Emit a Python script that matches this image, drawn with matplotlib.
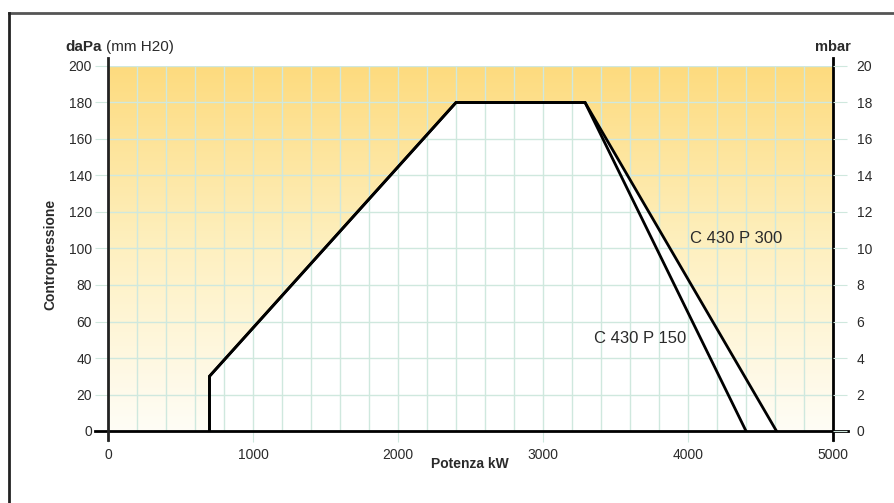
import numpy as np
import matplotlib
matplotlib.use("Agg")
import matplotlib.pyplot as plt
from matplotlib.colors import LinearSegmentedColormap

plt.rcParams['font.family'] = ['Liberation Sans', 'DejaVu Sans']

# data
kw_p150 = [700, 700, 2400, 3290, 4400]
kw_p300 = [700, 700, 2400, 3290, 4610]
dapa = [0, 30, 180, 180, 0]
x_ticks = [0, 1000, 2000, 3000, 4000, 5000]
y_ticks = list(range(0, 201, 20))
mbar_ticks = list(range(0, 21, 2))

grid_col = '#cfe8de'
txt_col = '#2a2a2a'

fig = plt.figure(figsize=(8.95, 5.03), dpi=100)
ax = fig.add_axes([108/895, 72/503, 725/895, 365/503])

# yellow gradient background
cmap = LinearSegmentedColormap.from_list('bg', ['#fffdf6', '#fef0c0', '#fddb7e'])
grad = np.linspace(0, 1, 256).reshape(-1, 1)
ax.imshow(grad, extent=[0, 5000, 0, 200], origin='lower', aspect='auto',
          cmap=cmap, zorder=0)

# white working field
ax.fill(kw_p300, dapa, color='white', zorder=1)

ax.set_xlim(0, 5000)
ax.set_ylim(0, 200)
ax.set_xticks(x_ticks)
ax.set_xticks(np.arange(0, 5001, 200), minor=True)
ax.set_yticks(y_ticks)
ax.grid(True, which='both', color=grid_col, lw=1)
ax.tick_params(axis='x', which='major', length=8, color=grid_col, labelsize=10,
               pad=4, labelcolor=txt_col)
ax.tick_params(axis='x', which='minor', length=0)
ax.tick_params(axis='y', length=9.5, color=grid_col, labelsize=10, pad=2,
               labelcolor=txt_col)
for s in ax.spines.values():
    s.set_visible(False)

ax.plot(kw_p150, dapa, color='black', lw=2, zorder=3, solid_joinstyle='miter')
ax.plot(kw_p300, dapa, color='black', lw=2, zorder=3, solid_joinstyle='miter')

# axis lines
ax.plot([-90, 5100], [0, 0], color='black', lw=2, clip_on=False, zorder=4)
ax.plot([0, 0], [-5, 204.5], color='#222222', lw=2, clip_on=False, zorder=4)
ax.plot([5000, 5000], [-5, 204.5], color='black', lw=2, clip_on=False, zorder=4)

ax2 = ax.twinx()
ax2.set_ylim(0, 20)
ax2.set_yticks(mbar_ticks)
ax2.tick_params(axis='y', length=10, color=grid_col, labelsize=10, pad=7,
                labelcolor=txt_col)
for s in ax2.spines.values():
    s.set_visible(False)

ax.text(4330, 105.5, 'C 430 P 300', fontsize=12, ha='center', va='center',
        color=txt_col, zorder=5)
ax.text(3670, 50.5, 'C 430 P 150', fontsize=12, ha='center', va='center',
        color=txt_col, zorder=5)

fig.text(65/895, 1 - 47/503, 'daPa', fontsize=11, fontweight='bold',
         ha='left', va='center', color=txt_col)
fig.text(106/895, 1 - 47/503, '(mm H20)', fontsize=11,
         ha='left', va='center', color=txt_col)
fig.text(833/895, 1 - 47/503, 'mbar', fontsize=10.5, fontweight='bold',
         ha='center', va='center', color=txt_col)
fig.text(50/895, 1 - 254/503, 'Contropressione', fontsize=10, fontweight='bold',
         rotation=90, ha='center', va='center', color=txt_col)
fig.text(470/895, 1 - 464/503, 'Potenza kW', fontsize=10, fontweight='bold',
         ha='center', va='center', color=txt_col)

# frame lines on top and left
fig.add_artist(plt.Line2D([9/895, 1], [1 - 13/503, 1 - 13/503], color='#555555', lw=2))
fig.add_artist(plt.Line2D([9/895, 9/895], [0, 1 - 13/503], color='#222222', lw=2))

fig.savefig('out.png', dpi=100)
